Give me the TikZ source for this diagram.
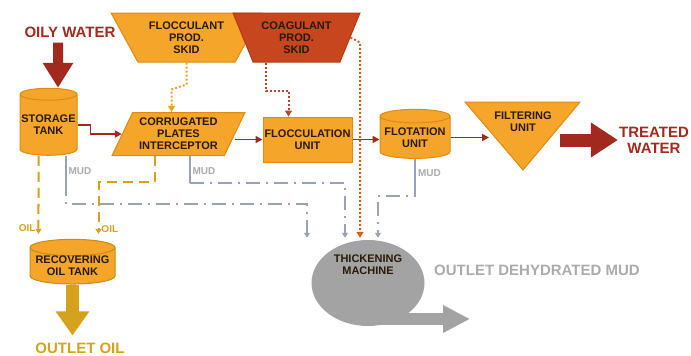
\documentclass[tikz,border=0pt]{standalone}
\usepackage{fontspec}
\setmainfont{Liberation Sans}
\usepackage{xcolor}
\usepackage{tikz}
\usetikzlibrary{shapes,arrows.meta,positioning,calc}

\definecolor{boxfill}{HTML}{F5A52A}
\definecolor{boxtop}{HTML}{F8B545}
\definecolor{boxline}{HTML}{E08A14}
\definecolor{coagfill}{HTML}{C8461E}
\definecolor{coagline}{HTML}{B23A16}
\definecolor{ink}{HTML}{2A1A08}
\definecolor{flowred}{HTML}{A2291D}
\definecolor{oilgold}{HTML}{D6A21E}
\definecolor{oilfill}{HTML}{D9A41F}
\definecolor{oiltop}{HTML}{E2B23A}
\definecolor{oilline}{HTML}{C48F12}
\definecolor{mudgray}{HTML}{A3A3A3}
\definecolor{mudline}{HTML}{9AA3B5}
\definecolor{mudtext}{HTML}{ABABAB}
\definecolor{dotorange}{HTML}{E9A52B}
\definecolor{dotred}{HTML}{B5452C}
\definecolor{dotflame}{HTML}{D85A20}

\begin{document}
\begin{tikzpicture}[x=1pt, y=-1pt,
    boxtext/.style={text=ink, align=center, inner sep=0pt, font=\fontsize{11}{12}\selectfont\bfseries},
    unit/.style={boxtext, draw=boxline, fill=boxfill, line width=1pt},
    tank/.style={unit, cylinder, shape border rotate=90, aspect=0.22,
        cylinder uses custom fill, cylinder body fill=boxfill, cylinder end fill=boxtop},
    oiltank/.style={tank, draw=oilline, cylinder body fill=oilfill, cylinder end fill=oiltop},
    skid/.style={unit, trapezium, shape border rotate=180, trapezium stretches=true,
        minimum height=49pt},
    bigtext/.style={inner sep=1pt, align=center, font=\fontsize{15}{16}\selectfont\bfseries},
    flow/.style={draw=flowred, line width=1.8pt, -{Triangle[length=7pt 0 0, width=7pt 0 0]}},
    bigflow/.style={draw=flowred, line width=10pt, -{Triangle[length=25pt 0 0, width=29pt 0 0]}},
    bigoil/.style={draw=oilgold, line width=13pt, -{Triangle[length=24pt 0 0, width=32pt 0 0]}},
    bigmud/.style={draw=mudgray, line width=12pt, -{Triangle[length=27pt 0 0, width=26pt 0 0]}},
    dotline/.style={line width=2pt, dash pattern=on 2pt off 2pt,
        -{Triangle[length=6pt 0 0, width=7pt 0 0]}},
    oilflow/.style={draw=oilgold, line width=2pt, dash pattern=on 10pt off 6pt,
        -{Triangle[length=5pt 0 0, width=6pt 0 0]}},
    mudstub/.style={draw=mudline, line width=2pt},
    mudflow/.style={draw=mudline, line width=2pt, dash pattern=on 14pt off 6pt on 2pt off 6pt,
        -{Triangle[length=5pt 0 0, width=6pt 0 0]}},
    mudlabel/.style={text=mudtext, inner sep=2pt, font=\fontsize{10}{12}\selectfont\bfseries},
    oillabel/.style={text=oilgold, inner sep=2pt, font=\fontsize{10}{12}\selectfont\bfseries}]
    \useasboundingbox (0,0) rectangle (691,356);

    % Chemical skids
    \node[skid, minimum width=151pt, trapezium angle=57] (flocskid) at (186.5,37.5) {FLOCCULANT\\PROD.\\SKID};
    \node[skid, fill=coagfill, draw=coagline, minimum width=127pt, trapezium angle=63] (coagskid) at (296.5,37.5) {COAGULANT\\PROD.\\SKID};

    % Water line
    \node[bigtext, text=flowred] (oily) at (70,32) {OILY WATER};
    \node[tank, minimum width=57pt, minimum height=67pt] (storage) at (48.5,125) {STORAGE\\TANK};
    \node[unit, trapezium, trapezium left angle=61, trapezium right angle=119, trapezium stretches=true,
        minimum width=133pt, minimum height=43pt] (cpi) at (178.5,134) {CORRUGATED\\PLATES\\INTERCEPTOR};
    \node[unit, minimum width=89pt, minimum height=45pt] (flocc) at (307.5,139.5) {FLOCCULATION\\UNIT};
    \node[tank, minimum width=70pt, minimum height=49pt] (flot) at (415,137.5) {FLOTATION\\UNIT};

    % Filtering unit (inverted triangle)
    \coordinate (filtL) at (465,102);
    \coordinate (filtR) at (580,102);
    \coordinate (filtA) at (523,170);
    \filldraw[draw=boxline, fill=boxfill, line width=1pt] (filtL) -- (filtR) -- (filtA) -- cycle;
    \node[boxtext] (filt) at (523,122) {FILTERING\\UNIT};
    \coordinate (filtin) at (489,137.5);
    \coordinate (filtout) at (560,140);
    \node[bigtext, text=flowred] (treated) at (654,140) {TREATED\\WATER};

    % Oil and mud treatment
    \node[oiltank, minimum width=85pt, minimum height=40pt] (recov) at (72.5,266) {RECOVERING\\OIL TANK};
    \node[bigtext, text=oilgold] (outoil) at (80,348) {OUTLET OIL};
    \node[ellipse, fill=mudgray, minimum width=113pt, minimum height=86pt, inner sep=0pt] (thick) at (368,283) {};
    \node[boxtext] (thicktext) at ([yshift=18pt]thick.center) {THICKENING\\MACHINE};
    \node[bigtext, text=mudtext] (outmud) at (537,270) {OUTLET DEHYDRATED MUD};

    \coordinate (m1) at ([xshift=-61pt,yshift=2pt]thick.north);
    \coordinate (m2) at ([xshift=-23pt,yshift=2pt]thick.north);
    \coordinate (c1) at ([xshift=-8pt,yshift=2pt]thick.north);
    \coordinate (m3) at ([xshift=10pt,yshift=2pt]thick.north);
    \coordinate (mudout) at (470,319);

    % Main flow
    \draw[bigflow] ([xshift=-12pt,yshift=-4pt]oily.south) -- ([xshift=9.5pt]storage.north);
    \draw[flow] (storage.east) -- ++(13,0) |- (cpi.west);
    \draw[flow] (cpi.east |- flocc.west) -- (flocc.west);
    \draw[flow] (flocc.east) -- (flocc.east -| flot.west);
    \draw[flow] (flot.east) -- (flot.east -| filtin);
    \draw[bigflow, line width=13pt, -{Triangle[length=27pt 0 0, width=33pt 0 0]}] (filtout |- treated.west) -- (treated.west);

    % Dosing lines
    \draw[dotline, draw=dotorange] (flocskid.south) -- ++(0,22) -- ++(-15,5) -- ([xshift=-7pt]cpi.north);
    \draw[dotline, draw=dotred] ([xshift=-31pt]coagskid.south) -- ++(0,28) -| ([xshift=-19pt]flocc.north);
    \draw[dotline, draw=dotflame] (coagskid.east) -- ([yshift=-5pt]coagskid.east -| c1) -- (c1);

    % Oil lines
    \draw[oilflow] ([xshift=-10pt]storage.south) -- ([xshift=-34pt,yshift=5pt]recov.north)
        node[oillabel, left, pos=0.93] (oilA) {OIL};
    \draw[oilflow] ([xshift=-24pt]cpi.south) -- ++(0,26) -| ([xshift=26pt,yshift=5pt]recov.north)
        node[oillabel, right, pos=0.95] (oilB) {OIL};
    \draw[bigoil] (recov.south) -- ([yshift=6pt]recov.south |- outoil.north);

    % Mud lines
    \draw[mudstub] ([xshift=17pt]storage.south) -- ++(0,26) node[mudlabel, right, pos=0.6] (mudA) {MUD} coordinate (s1);
    \draw[mudflow] (s1) -- ++(0,22) -| (m1);
    \draw[mudstub] ([xshift=11pt]cpi.south) -- ++(0,27) node[mudlabel, right, pos=0.55] (mudB) {MUD} coordinate (s2);
    \draw[mudflow] (s2) -| (m2);
    \draw[mudstub] (flot.south) -- ++(0,24) node[mudlabel, right, pos=0.6] (mudC) {MUD} coordinate (s3);
    \draw[mudflow] (s3) -- ++(0,13) -| (m3);
    \draw[bigmud] (thick.center |- mudout) -- (mudout);
\end{tikzpicture}
\end{document}
